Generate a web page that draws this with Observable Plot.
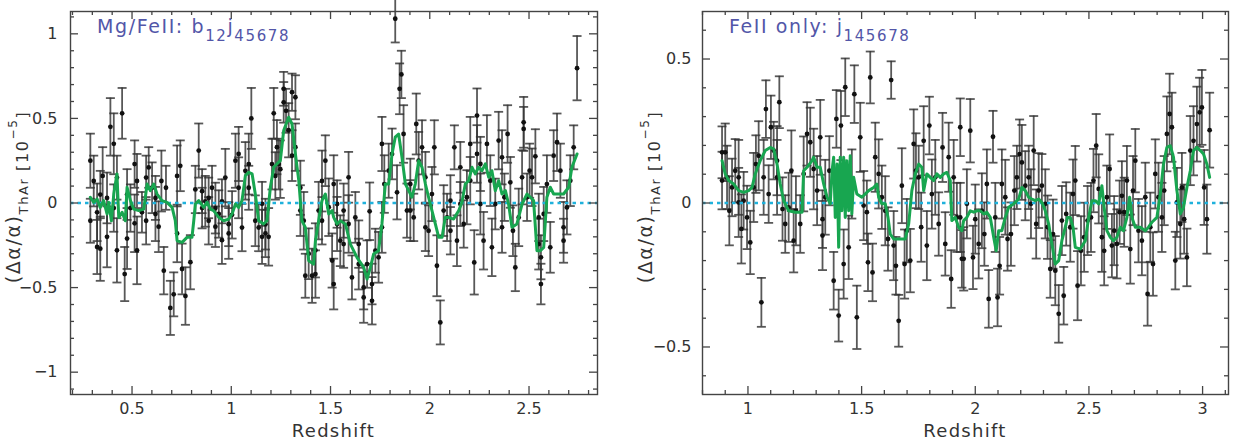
<!DOCTYPE html>
<html>
<head>
<meta charset="utf-8">
<script src="https://cdn.jsdelivr.net/npm/d3@7"></script>
<script src="https://cdn.jsdelivr.net/npm/@observablehq/plot@0.6"></script>
<style>
  body { margin: 0; background: #fff; }
  #wrap { display: flex; width: 1240px; height: 443px; }
  #wrap svg { display: block; }
</style>
</head>
<body>
<div id="wrap"></div>
<script>
// Mg/FeII sample: [redshift, Δα/α (10^-5), 1σ error]
const mgFePoints = [
  [0.290,0.25,0.16],[0.290,-0.105,0.13],[0.307,0.13,0.15],[0.324,-0.055,0.17],[0.324,-0.26,0.16],
  [0.340,-0.27,0.19],[0.340,0.05,0.14],[0.352,0.16,0.17],[0.374,0.03,0.15],[0.374,-0.20,0.18],
  [0.391,0.45,0.17],[0.408,0.35,0.18],[0.408,-0.03,0.14],[0.424,-0.28,0.19],[0.424,0.15,0.13],
  [0.450,0.53,0.15],[0.463,-0.42,0.16],[0.475,-0.21,0.18],[0.475,0.05,0.15],[0.492,-0.03,0.14],
  [0.513,-0.12,0.17],[0.513,0.23,0.14],[0.525,-0.28,0.20],[0.525,0.13,0.16],[0.550,-0.055,0.12],
  [0.571,0.15,0.13],[0.571,-0.105,0.14],[0.584,0.21,0.12],[0.601,0.09,0.15],[0.618,0.03,0.13],
  [0.618,-0.065,0.16],[0.634,-0.14,0.15],[0.648,0.13,0.18],[0.660,-0.40,0.14],[0.671,0.09,0.13],
  [0.693,-0.62,0.16],[0.710,-0.54,0.13],[0.727,0.16,0.18],[0.727,-0.18,0.17],[0.743,0.22,0.15],
  [0.752,-0.39,0.15],[0.769,-0.55,0.17],[0.794,-0.35,0.16],[0.819,0.08,0.14],[0.836,0.31,0.16],
  [0.853,0.07,0.13],[0.853,-0.03,0.12],[0.869,0.01,0.15],[0.886,0.03,0.12],[0.886,-0.105,0.14],
  [0.903,0.09,0.13],[0.920,-0.03,0.15],[0.920,-0.14,0.12],[0.937,-0.065,0.14],[0.953,0.01,0.13],
  [0.953,-0.22,0.14],[0.970,0.15,0.17],[0.987,-0.125,0.13],[0.987,-0.18,0.15],[1.004,-0.07,0.14],
  [1.021,0.25,0.16],[1.037,0.29,0.16],[1.037,0.09,0.18],[1.054,-0.145,0.14],[1.071,0.19,0.17],
  [1.088,0.23,0.18],[1.088,0.09,0.13],[1.101,0.50,0.18],[1.121,-0.105,0.15],[1.138,-0.145,0.14],
  [1.155,-0.005,0.13],[1.155,-0.20,0.16],[1.172,-0.125,0.15],[1.172,-0.18,0.14],[1.188,-0.20,0.17],
  [1.205,0.23,0.15],[1.214,0.53,0.15],[1.222,0.16,0.14],[1.230,0.33,0.16],[1.239,0.23,0.15],
  [1.247,0.20,0.17],[1.264,0.675,0.10],[1.264,0.595,0.12],[1.276,0.545,0.13],[1.289,0.43,0.16],
  [1.306,0.655,0.11],[1.306,0.28,0.15],[1.323,0.625,0.13],[1.323,0.33,0.14],[1.348,0.09,0.16],
  [1.348,-0.045,0.15],[1.365,-0.105,0.17],[1.373,-0.43,0.13],[1.390,-0.30,0.15],[1.407,-0.43,0.16],
  [1.424,-0.42,0.14],[1.424,-0.28,0.16],[1.440,-0.045,0.17],[1.457,0.13,0.18],[1.457,-0.105,0.14],
  [1.474,0.25,0.15],[1.491,-0.025,0.17],[1.508,-0.34,0.16],[1.516,0.112,0.17],[1.516,-0.479,0.15],
  [1.533,-0.006,0.14],[1.533,-0.124,0.16],[1.549,-0.223,0.15],[1.566,-0.045,0.16],[1.566,-0.243,0.14],
  [1.591,0.152,0.15],[1.591,-0.124,0.17],[1.608,-0.44,0.13],[1.625,-0.085,0.15],[1.642,-0.243,0.14],
  [1.642,-0.361,0.15],[1.667,-0.499,0.13],[1.667,-0.558,0.15],[1.684,-0.361,0.14],[1.697,-0.049,0.17],
  [1.709,-0.479,0.12],[1.709,-0.578,0.14],[1.726,-0.282,0.13],[1.742,-0.321,0.15],[1.759,0.349,0.16],
  [1.759,-0.144,0.15],[1.771,0.112,0.17],[1.793,0.191,0.16],[1.810,0.29,0.15],[1.826,1.089,0.14],
  [1.835,0.063,0.16],[1.848,0.675,0.15],[1.857,0.76,0.14],[1.868,0.408,0.17],[1.885,-0.045,0.16],
  [1.902,-0.045,0.18],[1.902,0.112,0.15],[1.919,-0.085,0.14],[1.932,0.467,0.18],[1.944,0.25,0.17],
  [1.961,0.329,0.16],[1.978,0.152,0.15],[1.978,-0.144,0.14],[1.994,-0.164,0.15],[2.011,0.053,0.16],
  [2.023,0.329,0.16],[2.036,-0.371,0.18],[2.053,-0.706,0.13],[2.070,-0.045,0.15],[2.087,-0.085,0.14],
  [2.104,0.014,0.15],[2.104,-0.164,0.14],[2.124,0.329,0.13],[2.137,-0.223,0.15],[2.154,0.211,0.15],
  [2.154,-0.006,0.13],[2.171,-0.124,0.14],[2.187,0.034,0.16],[2.204,0.349,0.16],[2.204,0.132,0.14],
  [2.224,-0.351,0.19],[2.238,0.517,0.16],[2.238,0.29,0.17],[2.255,0.231,0.16],[2.255,-0.006,0.18],
  [2.271,-0.223,0.17],[2.288,0.349,0.17],[2.305,0.132,0.15],[2.313,-0.262,0.17],[2.330,-0.006,0.15],
  [2.347,0.369,0.17],[2.364,-0.144,0.15],[2.364,0.27,0.16],[2.376,0.034,0.14],[2.392,0.408,0.17],
  [2.406,0.122,0.15],[2.419,-0.164,0.15],[2.431,-0.381,0.14],[2.448,-0.085,0.17],[2.465,0.152,0.16],
  [2.473,0.477,0.15],[2.473,0.438,0.13],[2.490,0.034,0.14],[2.503,0.191,0.16],[2.515,0.152,0.17],
  [2.532,0.276,0.16],[2.549,-0.085,0.14],[2.549,-0.243,0.15],[2.560,-0.321,0.13],[2.560,-0.479,0.12],
  [2.574,-0.065,0.16],[2.590,0.112,0.17],[2.607,-0.262,0.15],[2.624,0.28,0.15],[2.641,0.359,0.17],
  [2.658,0.191,0.16],[2.674,-0.144,0.15],[2.674,-0.223,0.13],[2.691,-0.026,0.16],[2.708,0.132,0.15],
  [2.725,0.329,0.13],[2.742,0.797,0.19]
];

// Mg/FeII running mean: [redshift, Δα/α]
const mgFeRunning = [
  [0.290,0.034],[0.307,0.004],[0.324,0.024],[0.340,-0.026],[0.357,0.014],[0.374,-0.065],[0.382,0.004],
  [0.396,-0.105],[0.408,0.053],[0.424,0.172],[0.433,-0.085],[0.450,-0.055],[0.466,-0.105],[0.475,0.093],
  [0.492,0.014],[0.508,-0.036],[0.534,-0.045],[0.559,-0.036],[0.576,0.112],[0.592,0.073],[0.609,0.112],
  [0.626,0.053],[0.651,0.014],[0.676,0.004],[0.702,-0.026],[0.718,-0.105],[0.727,-0.223],[0.752,-0.233],
  [0.777,-0.203],[0.802,-0.203],[0.811,-0.105],[0.819,-0.006],[0.836,0.014],[0.861,-0.026],[0.878,0.004],
  [0.895,-0.036],[0.911,-0.045],[0.937,-0.085],[0.962,-0.105],[0.987,-0.095],[1.004,-0.065],[1.021,-0.006],
  [1.037,-0.026],[1.054,0.014],[1.071,0.162],[1.088,0.181],[1.105,0.172],[1.121,0.053],[1.138,-0.105],
  [1.163,-0.124],[1.180,-0.105],[1.197,0.093],[1.214,0.211],[1.230,0.231],[1.247,0.25],[1.264,0.428],
  [1.289,0.507],[1.306,0.467],[1.323,0.29],[1.340,0.132],[1.356,-0.105],[1.373,-0.144],[1.390,-0.341],
  [1.415,-0.361],[1.424,-0.223],[1.440,-0.105],[1.457,0.014],[1.474,0.053],[1.491,-0.065],[1.508,-0.045],
  [1.516,-0.085],[1.533,-0.124],[1.549,-0.105],[1.575,-0.124],[1.600,-0.243],[1.633,-0.321],[1.667,-0.381],
  [1.684,-0.45],[1.701,-0.381],[1.717,-0.302],[1.742,-0.282],[1.759,-0.124],[1.776,0.112],[1.793,0.112],
  [1.810,0.29],[1.826,0.389],[1.843,0.408],[1.860,0.27],[1.877,0.112],[1.894,0.073],[1.910,0.034],
  [1.927,0.112],[1.944,0.25],[1.961,0.211],[1.978,0.112],[1.994,0.034],[2.011,-0.045],[2.028,-0.124],
  [2.045,-0.203],[2.062,-0.203],[2.078,-0.085],[2.095,-0.085],[2.120,-0.095],[2.146,-0.045],[2.162,0.004],
  [2.179,0.112],[2.196,0.132],[2.213,0.211],[2.229,0.172],[2.246,0.211],[2.263,0.191],[2.280,0.231],
  [2.297,0.152],[2.313,0.191],[2.330,0.073],[2.347,0.132],[2.364,0.053],[2.381,0.073],[2.397,-0.006],
  [2.414,-0.144],[2.439,-0.124],[2.465,-0.006],[2.490,0.053],[2.507,0.034],[2.523,0.014],[2.540,-0.282],
  [2.557,-0.282],[2.574,-0.262],[2.590,0.034],[2.607,0.093],[2.624,0.053],[2.649,0.053],[2.674,0.053],
  [2.700,0.093],[2.716,0.211],[2.742,0.29]
];

// FeII-only sample: [redshift, Δα/α (10^-5), 1σ error]
const feOnlyPoints = [
  [0.886,0.176,0.09],[0.886,0.078,0.10],[0.900,0.176,0.10],[0.908,0.089,0.11],[0.918,-0.027,0.12],
  [0.930,0.054,0.10],[0.944,0.112,0.11],[0.959,0.089,0.13],[0.959,0.002,0.12],[0.971,-0.09,0.12],
  [0.981,0.008,0.10],[0.996,-0.05,0.11],[1.010,-0.137,0.11],[1.025,0.054,0.12],[1.035,0.135,0.10],
  [1.047,0.164,0.12],[1.059,-0.345,0.085],[1.069,0.089,0.13],[1.079,0.326,0.10],[1.091,0.031,0.10],
  [1.101,0.263,0.11],[1.113,0.182,0.10],[1.128,0.147,0.12],[1.128,0.089,0.13],[1.138,0.35,0.09],
  [1.152,-0.021,0.11],[1.164,-0.073,0.10],[1.179,-0.015,0.12],[1.191,0.112,0.14],[1.201,-0.131,0.11],
  [1.211,-0.027,0.12],[1.230,-0.073,0.10],[1.245,0.101,0.13],[1.260,0.24,0.11],[1.274,0.211,0.12],
  [1.289,0.118,0.14],[1.304,0.043,0.12],[1.318,0.228,0.13],[1.328,-0.056,0.10],[1.328,-0.113,0.12],
  [1.340,0.02,0.13],[1.358,0.112,0.12],[1.377,-0.27,0.10],[1.389,0.292,0.10],[1.399,-0.391,0.09],
  [1.409,0.269,0.12],[1.421,-0.212,0.12],[1.428,0.402,0.10],[1.443,-0.154,0.11],[1.457,0.066,0.12],
  [1.468,0.378,0.10],[1.479,-0.397,0.11],[1.494,0.228,0.12],[1.509,-0.009,0.12],[1.523,-0.032,0.11],
  [1.528,-0.206,0.10],[1.538,0.436,0.09],[1.548,-0.241,0.10],[1.560,0.159,0.12],[1.575,0.101,0.12],
  [1.589,0.02,0.11],[1.604,-0.027,0.12],[1.616,-0.125,0.11],[1.630,0.427,0.065],[1.641,-0.148,0.12],
  [1.651,-0.218,0.10],[1.663,-0.409,0.09],[1.677,0.06,0.13],[1.689,-0.212,0.12],[1.699,-0.096,0.11],
  [1.714,-0.2,0.11],[1.729,0.205,0.12],[1.739,0.112,0.13],[1.751,0.089,0.11],[1.762,-0.084,0.12],
  [1.773,0.216,0.12],[1.787,-0.148,0.12],[1.798,0.269,0.10],[1.809,0.031,0.12],[1.824,0.089,0.13],
  [1.839,-0.073,0.11],[1.856,0.193,0.12],[1.868,-0.142,0.11],[1.883,0.159,0.12],[1.894,-0.264,0.10],
  [1.905,0.089,0.13],[1.919,-0.05,0.12],[1.941,-0.194,0.10],[1.934,0.263,0.10],[1.934,-0.05,0.12],
  [1.949,-0.194,0.11],[1.963,-0.003,0.12],[1.978,0.251,0.11],[1.990,-0.189,0.11],[2.000,-0.056,0.12],
  [2.015,-0.142,0.12],[2.029,-0.027,0.13],[2.040,-0.108,0.11],[2.051,0.066,0.12],[2.059,-0.333,0.10],
  [2.078,0.23,0.09],[2.088,-0.05,0.12],[2.098,-0.328,0.10],[2.107,-0.218,0.10],[2.117,0.066,0.12],
  [2.132,0.02,0.13],[2.142,-0.125,0.11],[2.157,-0.108,0.11],[2.172,0.043,0.12],[2.183,0.089,0.11],
  [2.195,0.17,0.12],[2.205,0.141,0.13],[2.220,0.06,0.12],[2.235,0.089,0.11],[2.245,-0.003,0.12],
  [2.257,0.182,0.12],[2.268,-0.073,0.12],[2.279,0.043,0.13],[2.293,0.06,0.11],[2.308,-0.003,0.12],
  [2.318,-0.084,0.11],[2.330,-0.229,0.10],[2.342,-0.108,0.12],[2.352,-0.235,0.12],[2.367,-0.385,0.10],
  [2.381,-0.061,0.12],[2.389,-0.322,0.10],[2.400,-0.038,0.11],[2.418,-0.084,0.12],[2.430,0.031,0.12],
  [2.440,0.078,0.12],[2.450,-0.287,0.12],[2.465,-0.166,0.12],[2.479,-0.119,0.12],[2.494,-0.061,0.12],
  [2.509,-0.05,0.12],[2.520,0.078,0.11],[2.532,0.199,0.11],[2.543,0.049,0.12],[2.557,-0.119,0.12],
  [2.567,-0.166,0.12],[2.579,0.02,0.11],[2.591,0.118,0.12],[2.601,-0.148,0.11],[2.611,-0.096,0.12],
  [2.623,-0.142,0.12],[2.635,-0.032,0.11],[2.645,0.025,0.12],[2.655,-0.032,0.12],[2.667,0.078,0.12],
  [2.682,-0.16,0.12],[2.694,0.043,0.12],[2.704,0.147,0.11],[2.718,-0.096,0.11],[2.733,-0.131,0.12],
  [2.748,0.02,0.12],[2.758,-0.316,0.11],[2.770,-0.084,0.12],[2.782,-0.212,0.11],[2.792,0.101,0.12],
  [2.806,0.02,0.12],[2.821,-0.05,0.12],[2.831,0.043,0.12],[2.843,0.24,0.13],[2.855,0.309,0.14],
  [2.865,0.263,0.12],[2.880,-0.2,0.10],[2.887,0.002,0.12],[2.902,-0.073,0.12],[2.909,0.054,0.12],
  [2.919,-0.056,0.12],[2.931,-0.189,0.10],[2.946,0.182,0.12],[2.960,0.216,0.12],[2.975,0.274,0.13],
  [2.987,0.315,0.12],[2.997,0.332,0.13],[3.007,0.054,0.13],[3.019,-0.056,0.12],[3.031,0.253,0.13]
];

// FeII-only running mean: [redshift, Δα/α]
const feOnlyRunning = [
  [0.886,0.147],[0.900,0.101],[0.915,0.078],[0.937,0.066],[0.959,0.043],[0.981,0.037],[1.003,0.043],
  [1.018,0.054],[1.032,0.101],[1.054,0.147],[1.076,0.182],[1.098,0.193],[1.113,0.188],[1.128,0.135],
  [1.142,0.066],[1.157,0.008],[1.179,-0.027],[1.208,-0.032],[1.238,-0.032],[1.245,0.112],[1.260,0.124],
  [1.282,0.147],[1.289,0.159],[1.304,0.124],[1.318,0.124],[1.333,0.066],[1.348,0.02],[1.362,-0.003],
  [1.370,0.112],[1.377,0.159],[1.384,-0.05],[1.392,0.135],[1.399,-0.154],[1.406,0.159],[1.413,-0.027],
  [1.421,0.159],[1.428,-0.05],[1.435,0.147],[1.443,-0.027],[1.450,0.164],[1.457,-0.038],[1.465,0.089],
  [1.479,0.031],[1.501,0.02],[1.531,0.043],[1.553,0.054],[1.567,0.066],[1.575,0.02],[1.589,-0.003],
  [1.604,-0.003],[1.616,-0.05],[1.626,-0.108],[1.641,-0.125],[1.670,-0.125],[1.692,-0.125],[1.707,-0.073],
  [1.721,0.043],[1.736,0.101],[1.751,0.135],[1.765,0.124],[1.773,0.043],[1.787,0.101],[1.802,0.089],
  [1.817,0.078],[1.831,0.101],[1.846,0.089],[1.861,0.101],[1.875,0.106],[1.890,0.078],[1.897,-0.061],
  [1.912,-0.05],[1.927,-0.084],[1.941,-0.096],[1.949,-0.061],[1.963,-0.05],[1.978,-0.027],[1.993,-0.032],
  [2.007,-0.027],[2.022,-0.027],[2.037,-0.038],[2.051,-0.032],[2.066,-0.05],[2.081,-0.119],[2.092,-0.166],
  [2.103,-0.096],[2.117,-0.096],[2.132,-0.05],[2.147,-0.015],[2.169,-0.003],[2.191,0.014],[2.205,0.054],
  [2.220,0.043],[2.235,0.02],[2.249,0.014],[2.264,0.008],[2.279,0.014],[2.293,0.002],[2.308,-0.027],
  [2.323,-0.073],[2.337,-0.142],[2.352,-0.212],[2.367,-0.2],[2.381,-0.131],[2.396,-0.084],[2.406,-0.05],
  [2.418,-0.05],[2.430,-0.084],[2.440,-0.154],[2.462,-0.16],[2.484,-0.131],[2.499,-0.05],[2.513,0.008],
  [2.528,0.008],[2.543,-0.003],[2.557,0.06],[2.567,-0.015],[2.579,-0.096],[2.594,-0.119],[2.608,-0.131],
  [2.623,-0.119],[2.638,-0.084],[2.652,-0.096],[2.667,-0.05],[2.679,0.02],[2.689,-0.05],[2.704,-0.084],
  [2.726,-0.084],[2.748,-0.096],[2.762,-0.084],[2.777,-0.067],[2.799,-0.05],[2.814,0.031],[2.828,0.135],
  [2.843,0.193],[2.858,0.199],[2.872,0.159],[2.887,0.043],[2.902,-0.038],[2.916,-0.015],[2.931,0.054],
  [2.946,0.112],[2.960,0.182],[2.975,0.193],[2.990,0.182],[3.004,0.17],[3.019,0.135],[3.031,0.089]
];

// Axis tick values
const mgFeXTicks = [0.5, 1, 1.5, 2, 2.5];
const mgFeYTicks = [-1, -0.5, 0, 0.5, 1];
const feOnlyXTicks = [1, 1.5, 2, 2.5, 3];
const feOnlyYTicks = [-0.5, 0, 0.5];

// Panel labels: [text, level] where level -1 is subscript
const mgFeTag = [["Mg/FeII: b", 0], ["12", -1], ["j", 0], ["45678", -1]];
const feOnlyTag = [["FeII only: j", 0], ["145678", -1]];

const FONT = "'DejaVu Sans', 'Liberation Sans', sans-serif";
const INK = "#333";
const W = 620, H = 443, MT = 11, MB = 49;

// minor ticks every 0.1 between the given bounds, skipping majors
function minorTicks(lo, hi, majors) {
  const out = [];
  for (let i = Math.ceil(lo * 10 - 1e-9); i <= Math.floor(hi * 10 + 1e-9); i++) {
    const v = i / 10;
    if (!majors.some(m => Math.abs(m - v) < 1e-9)) out.push(v);
  }
  return out;
}

// horizontal cap for error bars
const capSymbol = { draw(ctx) { ctx.moveTo(-4.5, 0); ctx.lineTo(4.5, 0); } };

function drawPanel(cfg) {
  const rows = cfg.points.map(([z, v, e]) => ({ z, v, lo: v - e, hi: v + e }));
  const curve = cfg.running.map(([z, v]) => ({ z, v }));
  const fmt = d3.format("");
  const xMinor = minorTicks(cfg.xDomain[0], cfg.xDomain[1], cfg.xTicks);
  const yMinor = minorTicks(cfg.yDomain[0], cfg.yDomain[1], cfg.yTicks);
  const frameW = W - cfg.marginLeft - cfg.marginRight;
  const frameH = H - MT - MB;
  const tk = { stroke: "#444", strokeWidth: 1.3 };

  const plot = Plot.plot({
    width: W,
    height: H,
    marginLeft: cfg.marginLeft,
    marginRight: cfg.marginRight,
    marginTop: MT,
    marginBottom: MB,
    style: { fontFamily: FONT, fontSize: "16px", color: "#333", background: "transparent", overflow: "visible" },
    x: { domain: cfg.xDomain },
    y: { domain: cfg.yDomain },
    marks: [
      // error bars with caps
      Plot.ruleX(rows, { x: "z", y1: "lo", y2: "hi", stroke: INK, strokeWidth: 1.8, strokeOpacity: 0.82 }),
      Plot.dot(rows, { x: "z", y: "hi", symbol: capSymbol, fill: "none", stroke: INK, strokeWidth: 1.8, strokeOpacity: 0.82 }),
      Plot.dot(rows, { x: "z", y: "lo", symbol: capSymbol, fill: "none", stroke: INK, strokeWidth: 1.8, strokeOpacity: 0.82 }),
      Plot.dot(rows, { x: "z", y: "v", r: 2.4, fill: "#111", stroke: "none" }),
      // zero reference and running mean
      Plot.ruleY([0], { stroke: "#1fb1dc", strokeWidth: 2.6, strokeDasharray: "3.5,4" }),
      Plot.line(curve, { x: "z", y: "v", stroke: "#18a650", strokeWidth: 3, strokeLinejoin: "round" }),
      // inward ticks: bottom/top
      Plot.tickX(cfg.xTicks, { x: d => d, insetTop: frameH - 8, ...tk }),
      Plot.tickX(xMinor, { x: d => d, insetTop: frameH - 4, ...tk }),
      Plot.tickX(cfg.xTicks, { x: d => d, insetBottom: frameH - 8, ...tk }),
      Plot.tickX(xMinor, { x: d => d, insetBottom: frameH - 4, ...tk }),
      // inward ticks: left/right
      Plot.tickY(cfg.yTicks, { y: d => d, insetRight: frameW - 8, ...tk }),
      Plot.tickY(yMinor, { y: d => d, insetRight: frameW - 4, ...tk }),
      Plot.tickY(cfg.yTicks, { y: d => d, insetLeft: frameW - 8, ...tk }),
      Plot.tickY(yMinor, { y: d => d, insetLeft: frameW - 4, ...tk }),
      Plot.frame({ stroke: "#444", strokeWidth: 1.4 }),
      // tick labels
      Plot.axisX(cfg.xTicks, { anchor: "bottom", tickSize: 0, tickPadding: 8, tickFormat: fmt, label: null }),
      Plot.axisY(cfg.yTicks, { anchor: "left", tickSize: 0, tickPadding: cfg.yPad, tickFormat: fmt, label: null })
    ]
  });

  const svg = d3.select(plot);
  const frameLeft = cfg.marginLeft;
  const frameRight = W - cfg.marginRight;

  // panel tag with subscripts
  const tag = svg.append("text")
    .attr("x", frameLeft + 27).attr("y", 33)
    .attr("text-anchor", "start")
    .attr("fill", "#5256a8")
    .style("font-family", FONT).style("font-size", "19px").style("letter-spacing", "1.6px");
  let level = 0;
  for (const [t, lv] of cfg.tag) {
    const shift = (lv - level) * -8;
    tag.append("tspan").attr("dy", shift).style("font-size", lv < 0 ? "15px" : "19px").text(t);
    level = lv;
  }

  // x-axis title
  svg.append("text")
    .attr("x", (frameLeft + frameRight) / 2).attr("y", 437)
    .attr("text-anchor", "middle").attr("fill", "#333")
    .style("font-family", FONT).style("font-size", "18px").style("letter-spacing", "1.3px")
    .text("Redshift");

  // y-axis title, rotated
  const yt = svg.append("text")
    .attr("transform", `translate(${frameLeft - 50},197) rotate(-90)`)
    .attr("text-anchor", "middle").attr("fill", "#333")
    .style("font-family", FONT).style("letter-spacing", "1.6px");
  yt.append("tspan").style("font-size", "19px").text("(Δα/α)");
  yt.append("tspan").attr("dy", 8).style("font-size", "13px").text("ThAr");
  yt.append("tspan").attr("dy", 0).style("font-size", "16px").text(" [10");
  yt.append("tspan").attr("dy", -11).style("font-size", "12px").text("−5");
  yt.append("tspan").attr("dy", 11).style("font-size", "16px").text("]");

  document.getElementById("wrap").appendChild(plot);
}

drawPanel({
  points: mgFePoints, running: mgFeRunning,
  xDomain: [0.19, 2.845], yDomain: [-1.132, 1.132],
  xTicks: mgFeXTicks, yTicks: mgFeYTicks,
  marginLeft: 70, marginRight: 23, yPad: 13,
  tag: mgFeTag
});

drawPanel({
  points: feOnlyPoints, running: feOnlyRunning,
  xDomain: [0.80, 3.114], yDomain: [-0.665, 0.665],
  xTicks: feOnlyXTicks, yTicks: feOnlyYTicks,
  marginLeft: 82, marginRight: 12, yPad: 11,
  tag: feOnlyTag
});
</script>
</body>
</html>
